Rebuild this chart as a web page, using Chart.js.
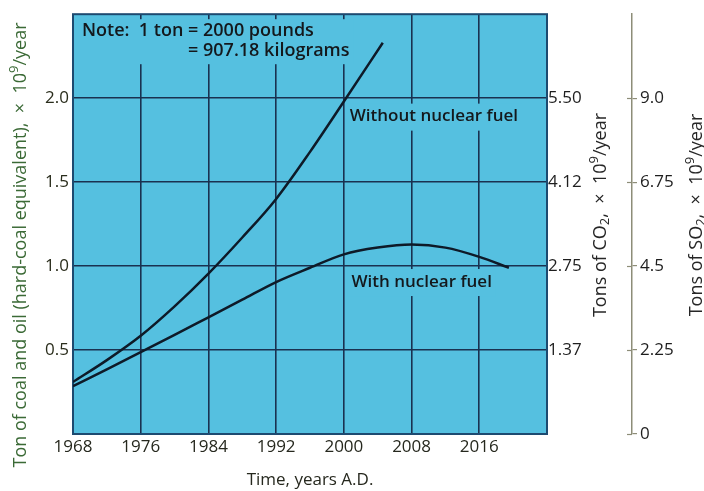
<!DOCTYPE html>
<html>
<head>
<meta charset="utf-8">
<script src="https://cdn.jsdelivr.net/npm/chart.js@4.4.1/dist/chart.umd.min.js"></script>
<style>
  html, body { margin: 0; padding: 0; background: #ffffff; }
  #wrap { width: 704px; height: 491px; }
</style>
</head>
<body>
<div id="wrap"><canvas id="chart" width="704" height="491"></canvas></div>
<script>
// Annual coal and oil demand (hard-coal equivalent), 10^9 tons per year
const yearsWithoutNuclear = [1968, 1972, 1976, 1980, 1984, 1988, 1992, 1996, 2000, 2004.6];
const coalWithoutNuclear  = [0.31, 0.44, 0.585, 0.76, 0.955, 1.17, 1.40, 1.68, 1.98, 2.33];

const yearsWithNuclear = [1968, 1972, 1976, 1980, 1984, 1988, 1992, 1996, 2000, 2004, 2008, 2012, 2016, 2019.5];
const coalWithNuclear  = [0.285, 0.385, 0.487, 0.59, 0.695, 0.80, 0.905, 0.99, 1.07, 1.11, 1.128, 1.11, 1.055, 0.99];

// Axis ticks
const yearTicks = [1968, 1976, 1984, 1992, 2000, 2008, 2016];
const coalTicks = [0.5, 1.0, 1.5, 2.0];
const co2Ticks = [1.375, 2.75, 4.125, 5.5];
const co2TickLabels = ['1.37', '2.75', '4.12', '5.50'];
const so2Ticks = [0, 2.25, 4.5, 6.75, 9.0];
const so2TickLabels = ['0', '2.25', '4.5', '6.75', '9.0'];

// Conversion factors: tons of CO2 / SO2 per ton of coal equivalent
const co2PerTon = 2.75;
const so2PerTon = 4.5;
const coalMax = 2.5;

const FONT = '"Open Sans", "DejaVu Sans", sans-serif';
const PLOT_BG = '#55c0e0';
const GRID = '#1a3150';
const INK = '#14181c';

function toPoints(xs, ys) { return xs.map((x, i) => ({ x: x, y: ys[i] })); }

// Draws a sequence of text runs (with optional sub/superscripts) centred on (cx, cy)
function drawRuns(ctx, runs, cx, cy, size, color, weight, rotate) {
  const small = Math.round(size * 0.7);
  const fontFor = r => `${weight} ${r.sub || r.sup ? small : size}px ${FONT}`;
  let total = 0;
  runs.forEach(r => { ctx.font = fontFor(r); total += ctx.measureText(r.t).width; });
  ctx.save();
  ctx.translate(cx, cy);
  if (rotate) ctx.rotate(-Math.PI / 2);
  ctx.fillStyle = color;
  ctx.textBaseline = 'middle';
  ctx.textAlign = 'left';
  let x = -total / 2;
  runs.forEach(r => {
    ctx.font = fontFor(r);
    const dy = r.sup ? -size * 0.36 : (r.sub ? size * 0.25 : 0);
    ctx.fillText(r.t, x, dy);
    x += ctx.measureText(r.t).width;
  });
  ctx.restore();
}

const plotDecor = {
  id: 'plotDecor',
  beforeDraw(chart) {
    const { ctx, chartArea: a } = chart;
    ctx.save();
    ctx.fillStyle = PLOT_BG;
    ctx.fillRect(a.left, a.top, a.right - a.left, a.bottom - a.top);
    ctx.restore();
  },
  beforeDatasetsDraw(chart) {
    const { ctx, chartArea: a, scales } = chart;
    const xs = scales.x, ys = scales.y;
    ctx.save();
    ctx.textBaseline = 'middle';
    ctx.textAlign = 'left';

    // Note panel in the upper-left corner
    const noteX = a.left + 9;
    const line1 = 'Note:  1 ton = 2000 pounds';
    const lead = 'Note:  1 ton ';
    ctx.font = `600 18px ${FONT}`;
    const eqX = noteX + ctx.measureText(lead).width;
    const line2 = '= 907.18 kilograms';
    const noteRight = Math.max(noteX + ctx.measureText(line1).width, eqX + ctx.measureText(line2).width) + 4;
    ctx.fillStyle = PLOT_BG;
    ctx.fillRect(a.left + 1, a.top + 5, noteRight - a.left - 1, 45);
    ctx.fillStyle = INK;
    ctx.fillText(line1, noteX, a.top + 17);
    ctx.fillText(line2, eqX, a.top + 37);

    // Curve labels with a cleared backing so grid lines stop around them
    ctx.font = `600 17px ${FONT}`;
    const labels = [
      { text: 'Without nuclear fuel', year: 2000.7, value: 1.89 },
      { text: 'With nuclear fuel', year: 2000.9, value: 0.905 }
    ];
    labels.forEach(l => {
      const x = xs.getPixelForValue(l.year);
      const y = ys.getPixelForValue(l.value);
      const w = ctx.measureText(l.text).width;
      ctx.fillStyle = PLOT_BG;
      ctx.fillRect(x - 4, y - 13, w + 8, 27);
      ctx.fillStyle = INK;
      ctx.fillText(l.text, x, y);
    });

    // Plot frame
    ctx.strokeStyle = '#1d4a70';
    ctx.lineWidth = 2;
    ctx.strokeRect(a.left, a.top, a.right - a.left, a.bottom - a.top);
    ctx.restore();
  },
  afterDraw(chart) {
    const { ctx, scales } = chart;
    // Tick marks crossing the SO2 axis line
    const s2 = scales.y2;
    ctx.save();
    ctx.strokeStyle = '#8d8d78';
    ctx.lineWidth = 1.2;
    so2Ticks.forEach(v => {
      const y = Math.round(s2.getPixelForValue(v)) + 0.5;
      ctx.beginPath();
      ctx.moveTo(s2.left - 5, y);
      ctx.lineTo(s2.left, y);
      ctx.stroke();
    });
    ctx.restore();

    // Axis titles (read bottom to top)
    drawRuns(ctx, [
      { t: 'Ton of coal and oil (hard-coal equivalent),  \u00d7  10' }, { t: '9', sup: true }, { t: '/year' }
    ], 21, 245, 18, '#3b6a36', 500, true);
    drawRuns(ctx, [
      { t: 'Tons of CO' }, { t: '2', sub: true }, { t: ',  \u00d7  10' }, { t: '9', sup: true }, { t: '/year' }
    ], scales.y1.left + 54, 215, 18, '#262626', 400, true);
    drawRuns(ctx, [
      { t: 'Tons of SO' }, { t: '2', sub: true }, { t: ',  \u00d7  10' }, { t: '9', sup: true }, { t: '/year' }
    ], s2.left + 65, 215, 18, '#262626', 400, true);
  }
};

new Chart(document.getElementById('chart'), {
  type: 'line',
  data: {
    datasets: [
      {
        label: 'Without nuclear fuel',
        data: toPoints(yearsWithoutNuclear, coalWithoutNuclear),
        borderColor: '#0e1a28', borderWidth: 2.5, pointRadius: 0,
        tension: 0.4, cubicInterpolationMode: 'monotone', fill: false
      },
      {
        label: 'With nuclear fuel',
        data: toPoints(yearsWithNuclear, coalWithNuclear),
        borderColor: '#0e1a28', borderWidth: 2.5, pointRadius: 0,
        tension: 0.4, cubicInterpolationMode: 'monotone', fill: false
      }
    ]
  },
  options: {
    responsive: false,
    animation: false,
    devicePixelRatio: 1,
    layout: { padding: { top: 13, left: 0, right: 0, bottom: 0 } },
    plugins: { legend: { display: false }, tooltip: { enabled: false } },
    scales: {
      x: {
        type: 'linear', min: 1968, max: 2024,
        afterBuildTicks: s => { s.ticks = yearTicks.map(v => ({ value: v })); },
        afterFit: s => { s.height = 57; },
        ticks: { font: { family: FONT, size: 17 }, color: '#26281e', padding: 3, callback: v => String(v), maxRotation: 0, autoSkip: false },
        grid: { color: GRID, lineWidth: 1.6, drawTicks: false },
        border: { display: false },
        title: { display: true, text: 'Time, years A.D.', color: '#26281e', font: { family: FONT, size: 17, weight: 500 }, padding: { top: 0, bottom: 1 } }
      },
      y: {
        type: 'linear', position: 'left', min: 0, max: coalMax,
        afterBuildTicks: s => { s.ticks = coalTicks.map(v => ({ value: v })); },
        afterFit: s => { s.width = 73; },
        ticks: { font: { family: FONT, size: 17 }, color: '#2a2d1c', padding: 4, callback: v => v.toFixed(1) },
        grid: { color: GRID, lineWidth: 1.6, drawTicks: false },
        border: { display: false }
      },
      y1: {
        type: 'linear', position: 'right', min: 0, max: coalMax * co2PerTon,
        afterBuildTicks: s => { s.ticks = co2Ticks.map(v => ({ value: v })); },
        afterFit: s => { s.width = 85; },
        ticks: { font: { family: FONT, size: 17 }, color: '#1e1e1e', padding: 1, callback: (v, i) => co2TickLabels[i] },
        grid: { drawOnChartArea: false, drawTicks: false },
        border: { display: false }
      },
      y2: {
        type: 'linear', position: 'right', min: 0, max: coalMax * so2PerTon,
        afterBuildTicks: s => { s.ticks = so2Ticks.map(v => ({ value: v })); },
        afterFit: s => { s.width = 72; },
        ticks: { font: { family: FONT, size: 17 }, color: '#1e1e1e', padding: 3, callback: (v, i) => so2TickLabels[i] },
        grid: { drawOnChartArea: false, drawTicks: true, tickLength: 5, color: '#8d8d78', lineWidth: 1.2 },
        border: { display: true, color: '#8d8d78', width: 1.5 }
      }
    }
  },
  plugins: [plotDecor]
});
</script>
</body>
</html>
